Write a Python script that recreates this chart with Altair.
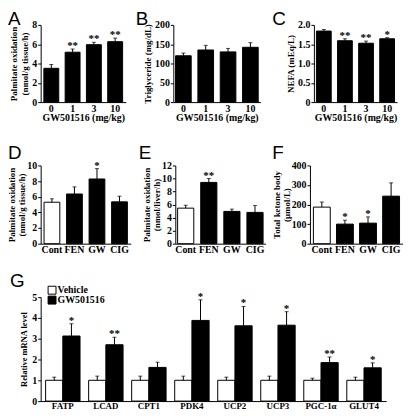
import altair as alt
import pandas as pd

SERIF = "Liberation Serif"
SANS = "Liberation Sans"

# ---------------- data ----------------
dose_cats = ["0", "1", "3", "10"]
dose_groups = ["treated", "treated", "treated", "treated"]

a_mean = [3.5, 5.17, 5.95, 6.26]
a_upper = [3.9, 5.5, 6.2, 6.63]
a_stars = ["", "**", "**", "**"]

b_mean = [120, 135, 130, 142]
b_upper = [127, 147, 139, 154]
b_stars = ["", "", "", ""]

c_mean = [1.84, 1.59, 1.525, 1.64]
c_upper = [1.88, 1.64, 1.58, 1.67]
c_stars = ["", "**", "**", "*"]

drug_cats = ["Cont", "FEN", "GW", "CIG"]
drug_groups = ["control", "treated", "treated", "treated"]

d_mean = [5.3, 6.35, 8.27, 5.35]
d_upper = [5.74, 7.26, 9.6, 6.07]
d_stars = ["", "", "*", ""]

e_mean = [5.45, 9.4, 4.95, 4.8]
e_upper = [5.9, 10.0, 5.3, 5.85]
e_stars = ["", "**", "", ""]

f_mean = [187, 100, 105, 243]
f_upper = [213, 120, 137, 311]
f_stars = ["", "*", "*", ""]

genes = ["FATP", "LCAD", "CPT1", "PDK4", "UCP2", "UCP3", "PGC-1\u03b1", "GLUT4"]
veh_mean = [1.0, 1.0, 1.0, 1.0, 1.0, 1.0, 1.0, 1.0]
veh_upper = [1.15, 1.2, 1.2, 1.2, 1.15, 1.2, 1.1, 1.15]
gw_mean = [3.13, 2.71, 1.62, 3.88, 3.62, 3.65, 1.85, 1.6]
gw_upper = [3.72, 3.07, 1.87, 4.87, 4.55, 4.3, 2.12, 1.84]
gw_stars = ["*", "**", "", "*", "*", "*", "**", "*"]
g_series = ["Vehicle", "GW501516"]


def letter_layer(letter, lx, ly):
    return alt.Chart(pd.DataFrame({"t": [letter]})).mark_text(
        font=SANS, fontSize=19, align="left", baseline="alphabetic", fill="black"
    ).encode(text="t:N", x=alt.value(lx), y=alt.value(ly))


def anchor_layer(left, top, bottom):
    # invisible frame that fixes the layout bounds of a row
    return alt.Chart(pd.DataFrame({"v": [0]})).mark_rect(opacity=0).encode(
        x=alt.value(left), x2=alt.value(left + 1),
        y=alt.value(top), y2=alt.value(bottom))


def bar_panel(cats, groups, means, uppers, stars, ydom, yvals, ytitle, xtitle,
              w, h, letter, lx, ly, pi, po, label_expr=None, anchor=None,
              title_pad=2, title_lh=11):
    df = pd.DataFrame({"cat": cats, "grp": groups, "mean": means,
                       "upper": uppers, "star": stars})
    if xtitle is None:
        xaxis = alt.Axis(title="", labelAngle=0, ticks=False, tickSize=0,
                         labelPadding=1, labelFontSize=10)
    else:
        xaxis = alt.Axis(title=xtitle, labelAngle=0, ticks=False, tickSize=0,
                         labelPadding=1, titlePadding=0, labelFontSize=10,
                         titleFontSize=10)
    xenc = alt.X("cat:N", sort=cats,
                 scale=alt.Scale(paddingInner=pi, paddingOuter=po), axis=xaxis)
    yargs = dict(title=ytitle, values=yvals, tickSize=3, labelPadding=1,
                 titlePadding=title_pad, labelFontSize=10, titleFontSize=9,
                 titleLineHeight=title_lh)
    if label_expr:
        yargs["labelExpr"] = label_expr
    ysc = alt.Scale(domain=ydom, nice=False)
    yenc = alt.Y("mean:Q", scale=ysc, axis=alt.Axis(**yargs))
    yup = alt.Y("upper:Q", scale=ysc, axis=alt.Axis(**yargs))
    base = alt.Chart(df)
    bars = base.mark_bar(stroke="black", strokeWidth=1).encode(
        x=xenc, y=yenc,
        fill=alt.Fill("grp:N", scale=alt.Scale(domain=["control", "treated"],
                                               range=["white", "black"]),
                      legend=None))
    rules = base.mark_rule(color="black", strokeWidth=1).encode(
        x=xenc, y=yenc, y2="upper:Q")
    caps = base.mark_tick(color="black", size=4, thickness=1).encode(x=xenc, y=yup)
    txt = base.mark_text(font=SERIF, fontWeight="bold", fontSize=11,
                         baseline="alphabetic", fill="black").encode(
        x=xenc, y=yup, text="star:N")
    layers = [bars, rules, caps, txt, letter_layer(letter, lx, ly)]
    if anchor is not None:
        layers = [anchor_layer(*anchor)] + layers
    return alt.layer(*layers).properties(width=w, height=h)


def spacer(w, h=10):
    return alt.Chart(pd.DataFrame({"v": [0]})).mark_point(opacity=0, size=1).encode(
        x=alt.value(0), y=alt.value(0)).properties(width=w, height=h)


H1, H2, HG = 78, 79, 105
xt = "GW501516 (mg/kg)"
pA = bar_panel(dose_cats, dose_groups, a_mean, a_upper, a_stars, [0, 8], [0, 2, 4, 6, 8],
               ["Palmitate oxidation", "(nmol/g tissue/h)"], xt, 86, H1, "A", -33, 0, 0.3, 0.15,
               anchor=(-33, -15, H1 + 26))
pB = bar_panel(dose_cats, dose_groups, b_mean, b_upper, b_stars, [0, 200], [0, 50, 100, 150, 200],
               "Triglyceride (mg/dL)", xt, 88, H1, "B", -38, 0, 0.3, 0.1)
pC = bar_panel(dose_cats, dose_groups, c_mean, c_upper, c_stars, [0, 2], [0, 0.5, 1.0, 1.5, 2.0],
               "NEFA (mEq/L)", xt, 84, H1, "C", -42, 0, 0.3, 0.12,
               label_expr="datum.value == 0 ? '0' : format(datum.value, '.1f')")

pD = bar_panel(drug_cats, drug_groups, d_mean, d_upper, d_stars, [0, 10], [0, 2, 4, 6, 8, 10],
               ["Palmitate oxidation", "(nmol/g tissue/h)"], None, 91, H2, "D", -33, -7, 0.3, 0.15,
               anchor=(-33, -22, H2 + 14), title_pad=0, title_lh=10)
pE = bar_panel(drug_cats, drug_groups, e_mean, e_upper, e_stars, [0, 12], [0, 2, 4, 6, 8, 10, 12],
               ["Palmitate oxidation", "(nmol/liver/h)"], None, 91, H2, "E", -37, -7, 0.3, 0.1,
               title_pad=0, title_lh=10)
pF = bar_panel(drug_cats, drug_groups, f_mean, f_upper, f_stars, [0, 400], [0, 100, 200, 300, 400],
               ["Total ketone body", "(\u03bcmol/L)"], None, 94, H2, "F", -38, -7, 0.27, 0.15,
               title_pad=0, title_lh=10)

# ---------------- panel G ----------------
gdf = pd.DataFrame({
    "gene": genes + genes,
    "series": ["Vehicle"] * len(genes) + ["GW501516"] * len(genes),
    "mean": veh_mean + gw_mean,
    "upper": veh_upper + gw_upper,
    "star": [""] * len(genes) + gw_stars,
})
gx = alt.X("gene:N", sort=genes, scale=alt.Scale(paddingInner=0.2, paddingOuter=0.115),
           axis=alt.Axis(title="", labelAngle=0, ticks=False, tickSize=0, labelPadding=1,
                         labelFontSize=9))
gxo = alt.XOffset("series:N", sort=g_series, scale=alt.Scale(paddingInner=0, paddingOuter=0))
gyaxis = alt.Axis(title="Relative mRNA level", values=[0, 1, 2, 3, 4, 5], tickSize=3,
                  labelPadding=1, titlePadding=3, labelFontSize=10, titleFontSize=8.5)
gscale = alt.Scale(domain=[0, 5], nice=False)
gbase = alt.Chart(gdf)
gbars = gbase.mark_bar(stroke="black", strokeWidth=1).encode(
    x=gx, xOffset=gxo, y=alt.Y("mean:Q", scale=gscale, axis=gyaxis),
    fill=alt.Fill("series:N", sort=g_series,
                  scale=alt.Scale(domain=g_series, range=["white", "black"]),
                  legend=None))
grules = gbase.mark_rule(color="black", strokeWidth=1).encode(
    x=gx, xOffset=gxo, y=alt.Y("mean:Q", scale=gscale, axis=gyaxis), y2="upper:Q")
gcaps = gbase.mark_tick(color="black", size=4, thickness=1).encode(
    x=gx, xOffset=gxo, y=alt.Y("upper:Q", scale=gscale, axis=gyaxis))
gtxt = gbase.mark_text(font=SERIF, fontWeight="bold", fontSize=11, baseline="alphabetic",
                       fill="black").encode(
    x=gx, xOffset=gxo, y=alt.Y("upper:Q", scale=gscale, axis=gyaxis), text="star:N")


def legend_item(name, color, yc):
    d = pd.DataFrame({"name": [name]})
    sq = alt.Chart(d).mark_square(size=64, fill=color, stroke="black", strokeWidth=1,
                                  opacity=1).encode(x=alt.value(11.5), y=alt.value(yc))
    tx = alt.Chart(d).mark_text(font=SERIF, fontWeight="bold", fontSize=10, align="left",
                                baseline="middle", fill="black").encode(
        text="name:N", x=alt.value(17), y=alt.value(yc))
    return [sq, tx]


leg = legend_item(g_series[0], "white", -7) + legend_item(g_series[1], "black", 3)
pG = alt.layer(anchor_layer(-31, -25, HG + 12), gbars, grules, gcaps, gtxt, *leg,
               letter_layer("G", -31, -10)).properties(width=349, height=HG)

row1 = alt.hconcat(pA, spacer(48), pB, spacer(54), pC, spacing=0, bounds="flush")
row2 = alt.hconcat(pD, spacer(45), pE, spacer(45), pF, spacing=0, bounds="flush")

chart = alt.vconcat(row1, alt.vconcat(row2, pG, spacing=15), spacing=16).properties(
    padding=0, background="white"
).configure_view(stroke=None).configure_axis(
    grid=False, domainColor="black", tickColor="black", labelColor="black",
    titleColor="black", labelFont=SERIF, titleFont=SERIF, labelFontWeight="bold",
    titleFontWeight="bold", domainWidth=1, tickWidth=1
)

chart.save("out.html", embed_options={"renderer": "svg", "actions": False})
